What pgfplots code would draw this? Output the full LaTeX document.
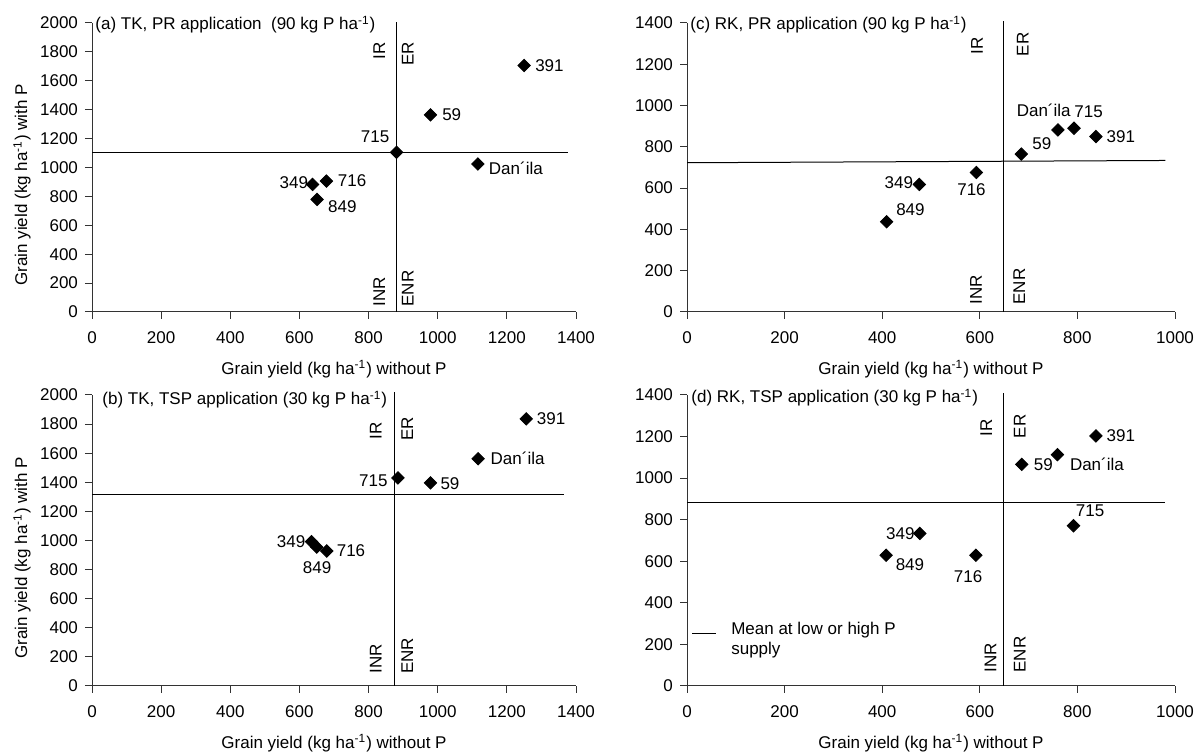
\documentclass[border=0pt]{standalone}
\usepackage{fontspec}
\setmainfont{Liberation Sans}
\usepackage{pgfplots}
\pgfplotsset{compat=1.18}

\newcommand{\fs}{\fontsize{8.5}{10}\selectfont}
\newcommand{\haunit}{ha\textsuperscript{-1}}

\pgfplotsset{
  panel/.style={
    scale only axis, anchor=south west,
    axis lines=left, axis line style={-, black!80, line width=0.5pt},
    tick align=outside, major tick length=3.5pt,
    tick style={black!80, line width=0.5pt},
    xmin=0, ymin=0, clip=false,
    font=\fs, tick label style={font=\fs},
    /pgf/number format/assume math mode=true,
    /pgf/number format/1000 sep={},
    xticklabel style={yshift=-3pt},
    xlabel={Grain yield (kg \haunit) without P},
    xlabel style={at={(axis description cs:0.5,0)}, anchor=center, yshift=-28.5pt},
  },
  leftpanel/.style={
    ylabel={Grain yield (kg \haunit) with P},
    ylabel style={at={([xshift=-35pt]axis description cs:0,0.44)}, anchor=center},
  },
  pts/.style={only marks, mark=square*, mark size=2.2pt,
    mark options={rotate=45, fill=black, draw=black}, forget plot},
  ref/.style={black, line width=0.5pt, no markers, forget plot},
}
\tikzset{
  lab/.style={inner sep=0pt, font=\fs},
  qlab/.style={inner sep=0pt, rotate=90, font=\fs},
}

\begin{document}
\begin{tikzpicture}
\useasboundingbox (0,0) rectangle (598.5pt,376.5pt);

% (a) TK, PR
\begin{axis}[panel, leftpanel, at={(46pt,220.5pt)}, width=242pt, height=144.5pt,
  xmax=1400, ymax=2000, xtick={0,200,...,1400}, ytick={0,200,...,2000}]
\addplot[ref] coordinates {(881,0) (881,2010)};
\addplot[ref] coordinates {(0,1105) (1376,1105)};
\addplot[pts] coordinates {(1250,1706) (979,1364) (881,1105) (1116,1024) (678,906) (638,883) (651,779)};
\node[lab, anchor=base west, xshift=1.5pt, yshift=-3.5pt] at (axis cs:0,2000) {(a) TK, PR application~~(90 kg P \haunit)};
\node[lab, anchor=west] at (axis cs:1281,1706) {391};
\node[lab, anchor=west] at (axis cs:1012,1364) {59};
\node[lab, anchor=east] at (axis cs:861,1214) {715};
\node[lab, anchor=west] at (axis cs:1147,994) {Dan´ila};
\node[lab, anchor=west] at (axis cs:710,906) {716};
\node[lab, anchor=east] at (axis cs:626,895) {349};
\node[lab, anchor=west] at (axis cs:682,728) {849};
\node[qlab, anchor=south east] at (axis cs:849,1869) {IR};
\node[qlab, anchor=north east] at (axis cs:895,1869) {ER};
\node[qlab, anchor=south west] at (axis cs:849,35) {INR};
\node[qlab, anchor=north west] at (axis cs:895,35) {ENR};
\end{axis}

% (c) RK, PR
\begin{axis}[panel, at={(343.5pt,220.5pt)}, width=244pt, height=144.5pt,
  xmax=1000, ymax=1400, xtick={0,200,...,1000}, ytick={0,200,...,1400}]
\addplot[ref] coordinates {(648,0) (648,1408)};
\addplot[ref] coordinates {(0,723) (980,734)};
\addplot[pts] coordinates {(685,765) (760,882) (793,890) (838,850) (593,676) (476,618) (409,437)};
\node[lab, anchor=base west, xshift=1.5pt, yshift=-3.5pt] at (axis cs:0,1400) {(c) RK, PR application (90 kg P \haunit)};
\node[lab, anchor=west] at (axis cs:675,979) {Dan´ila};
\node[lab, anchor=west] at (axis cs:793,971) {715};
\node[lab, anchor=west] at (axis cs:859,850) {391};
\node[lab, anchor=west] at (axis cs:707,817) {59};
\node[lab] at (axis cs:583,594) {716};
\node[lab, anchor=east] at (axis cs:464,626) {349};
\node[lab, anchor=west] at (axis cs:428,497) {849};
\node[qlab, anchor=south east] at (axis cs:607,1332) {IR};
\node[qlab, anchor=north east] at (axis cs:675,1356) {ER};
\node[qlab, anchor=south west] at (axis cs:605,34) {INR};
\node[qlab, anchor=north west] at (axis cs:668,34) {ENR};
\end{axis}

% (b) TK, TSP
\begin{axis}[panel, leftpanel, at={(46pt,33.5pt)}, width=242pt, height=145.5pt,
  xmax=1400, ymax=2000, xtick={0,200,...,1400}, ytick={0,200,...,2000}]
\addplot[ref] coordinates {(874,0) (874,2018)};
\addplot[ref] coordinates {(0,1316) (1364,1316)};
\addplot[pts] coordinates {(1256,1836) (1117,1562) (885,1430) (979,1396) (635,992) (650,955) (679,928)};
\node[lab, anchor=base west, xshift=5pt, yshift=-5pt] at (axis cs:0,2000) {(b) TK, TSP application (30 kg P \haunit)};
\node[lab, anchor=west] at (axis cs:1286,1836) {391};
\node[lab, anchor=west] at (axis cs:1152,1562) {Dan´ila};
\node[lab, anchor=east] at (axis cs:856,1414) {715};
\node[lab, anchor=west] at (axis cs:1007,1391) {59};
\node[lab, anchor=east] at (axis cs:618,992) {349};
\node[lab] at (axis cs:651,810) {849};
\node[lab, anchor=west] at (axis cs:707,928) {716};
\node[qlab, anchor=south east] at (axis cs:839,1815) {IR};
\node[qlab, anchor=north east] at (axis cs:894,1850) {ER};
\node[qlab, anchor=south west] at (axis cs:839,82) {INR};
\node[qlab, anchor=north west] at (axis cs:894,82) {ENR};
\end{axis}

% (d) RK, TSP
\begin{axis}[panel, at={(343.5pt,33.5pt)}, width=244pt, height=145.5pt,
  xmax=1000, ymax=1400, xtick={0,200,...,1000}, ytick={0,200,...,1400},
  legend image code/.code={\draw[#1] (0pt,0.5pt) -- (12pt,0.5pt); \path[draw=none] (17.5pt,0pt);},
  legend style={at={(axis description cs:0.009,0.24)}, anchor=north west,
    draw=none, fill=none, inner sep=0pt, font=\fs,
    cells={anchor=base west}}]
\addplot[ref] coordinates {(649,0) (649,1408)};
\addplot[black, line width=0.5pt, no markers] coordinates {(0,884) (980,884)};
\addlegendentry{\begin{tabular}[t]{@{}l@{}}Mean at low or high P\\supply\end{tabular}}
\addplot[pts] coordinates {(838,1203) (759,1113) (686,1066) (792,771) (477,734) (408,629) (592,629)};
\node[lab, anchor=base west, xshift=2pt, yshift=-4pt] at (axis cs:0,1400) {(d) RK, TSP application (30 kg P \haunit)};
\node[lab, anchor=west] at (axis cs:859,1206) {391};
\node[lab, anchor=west] at (axis cs:784,1065) {Dan´ila};
\node[lab, anchor=west] at (axis cs:710,1065) {59};
\node[lab, anchor=west] at (axis cs:796,844) {715};
\node[lab, anchor=east] at (axis cs:467,734) {349};
\node[lab, anchor=west] at (axis cs:427,582) {849};
\node[lab] at (axis cs:576,524) {716};
\node[qlab, anchor=south east] at (axis cs:626,1284) {IR};
\node[qlab, anchor=north east] at (axis cs:669,1308) {ER};
\node[qlab, anchor=south west] at (axis cs:635,63) {INR};
\node[qlab, anchor=north west] at (axis cs:669,63) {ENR};
\end{axis}
\end{tikzpicture}
\end{document}
